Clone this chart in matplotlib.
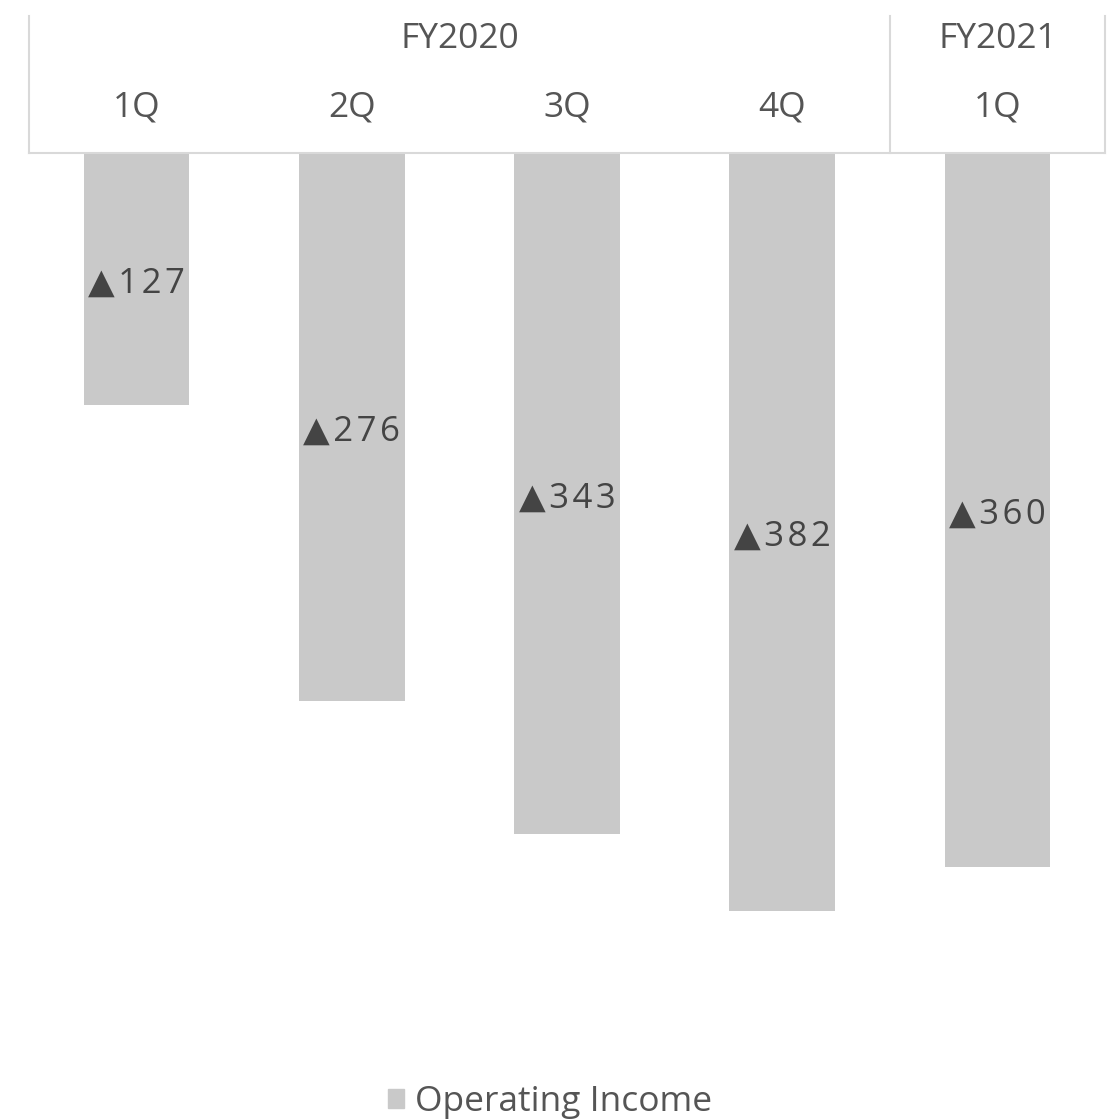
import matplotlib.pyplot as plt
from matplotlib.lines import Line2D
from matplotlib.patches import Patch

quarters = ["1Q", "2Q", "3Q", "4Q", "1Q"]
years = ["FY2020", "FY2021"]
year_spans = [(0, 3), (4, 4)]
operating_income = [-127, -276, -343, -382, -360]

bar_color = "#c9c9c9"
text_color = "#555555"
line_color = "#d9d9d9"
fs = 25.5

plt.rcParams['font.family'] = ['Open Sans', 'DejaVu Sans']


def spaced(s):
    # a little letter spacing, like the original
    return "\u200a".join(s)


fig = plt.figure(figsize=(11.11, 11.2), dpi=100)
ax = fig.add_axes([29 / 1111, (1120 - 1046) / 1120, 1076 / 1111, (1046 - 153) / 1120])

x = list(range(len(quarters)))
ax.bar(x, operating_income, width=0.49, color=bar_color)
ax.set_xlim(-0.5, 4.5)
ax.set_ylim(-450, 0)

for xi, v in zip(x, operating_income):
    ax.text(xi, v / 2 - 2.5, spaced("\u25b2" + str(abs(v))), ha="center", va="center",
            fontsize=25, color="#444444")

ax.set_xticks([])
ax.set_yticks([])
for s in ax.spines.values():
    s.set_visible(False)

# header table above the plot
tr = ax.get_xaxis_transform()
hdr_top = 1 + 137 / 893
ax.add_line(Line2D([-0.5, 4.5], [1, 1], transform=tr, color=line_color, lw=1.5, clip_on=False))
for xv in [-0.5, 3.5, 4.5]:
    ax.add_line(Line2D([xv, xv], [1, hdr_top], transform=tr, color=line_color, lw=1.5, clip_on=False))

for xi, q in zip(x, quarters):
    ax.text(xi, 1 + 45 / 893, q, transform=tr, ha="center", va="center",
            fontsize=fs, color=text_color, clip_on=False)
for name, (a, b) in zip(years, year_spans):
    ax.text((a + b) / 2, 1 + 114 / 893, name, transform=tr, ha="center", va="center",
            fontsize=fs, color=text_color, clip_on=False)

fig.legend(handles=[Patch(color=bar_color, label="Operating Income")],
           loc="center", bbox_to_anchor=(550 / 1111, 1 - 1102 / 1120), frameon=False,
           fontsize=fs, labelcolor=text_color, handlelength=0.45, handleheight=0.45,
           handletextpad=0.3)

fig.savefig("out.png", dpi=100)
